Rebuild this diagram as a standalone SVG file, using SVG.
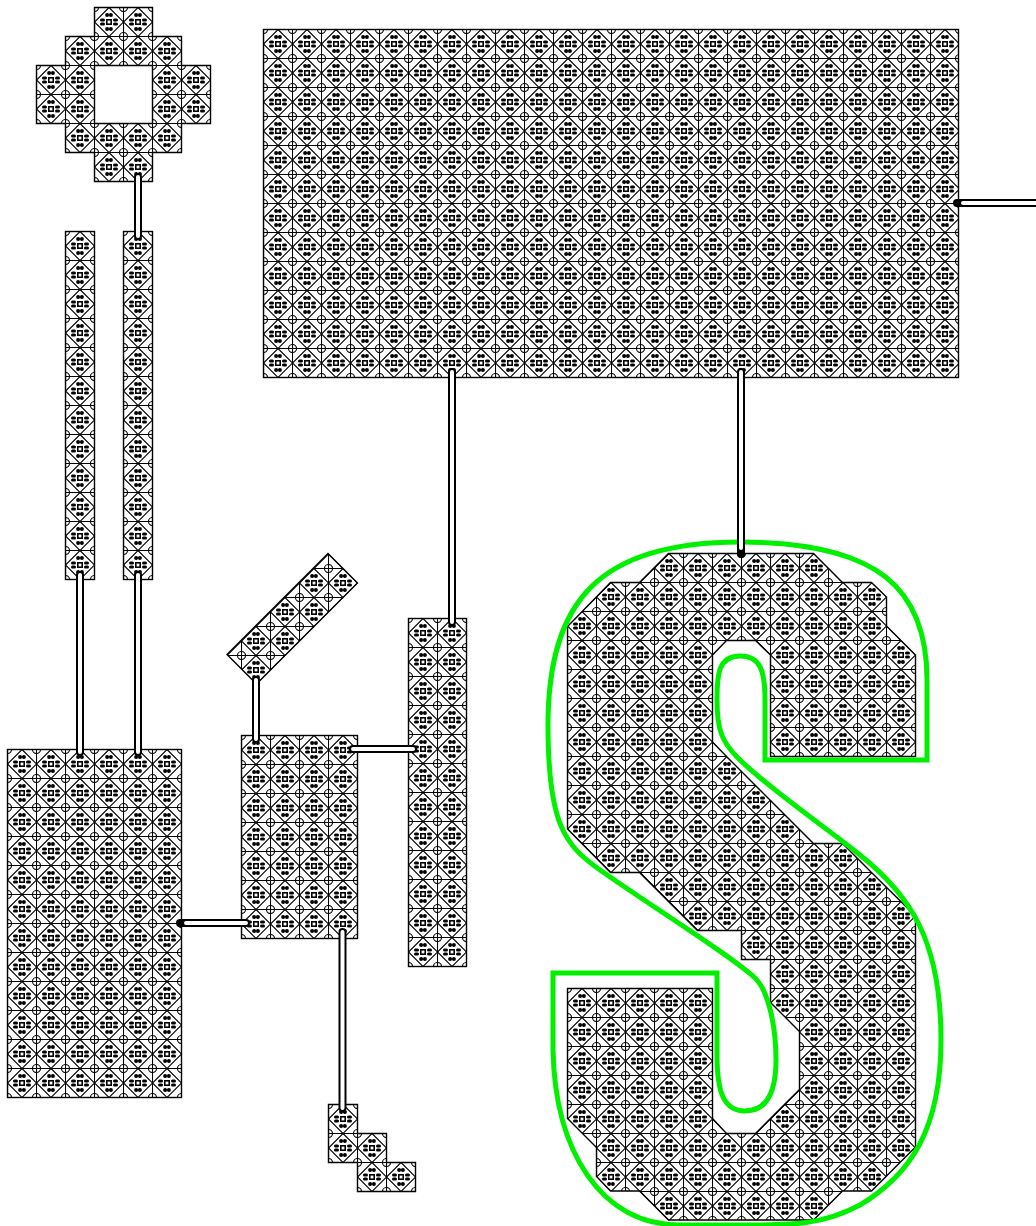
<svg xmlns="http://www.w3.org/2000/svg" xmlns:xlink="http://www.w3.org/1999/xlink" width="1036" height="1226" viewBox="0 0 1036 1226">
<style>
.t{fill:none;stroke:#000;stroke-width:1.1}
.d{fill:#000;stroke:none}
.s{stroke:#000;stroke-width:1.4}
.o{fill:none;stroke:#000;stroke-width:8;stroke-linecap:round}
.i{fill:none;stroke:#fff;stroke-width:4;stroke-linecap:round}
.g{fill:none;stroke:#00f000;stroke-width:5;stroke-linejoin:miter}
</style>
<defs>
<pattern id="tile" patternUnits="userSpaceOnUse" width="29" height="29">
<rect width="29" height="29" fill="#fff"/>
<path class="t" d="M0 .5H29M.5 0V29"/>
<path class="t" d="M15 .5L29.5 15L15 29.5L.5 15Z"/>
<circle class="t" cx=".5" cy=".5" r="4"/><circle class="t" cx="29.5" cy=".5" r="4"/><circle class="t" cx=".5" cy="29.5" r="4"/><circle class="t" cx="29.5" cy="29.5" r="4"/>
<rect x="12.8" y="12.8" width="4.4" height="4.4" fill="#fff" stroke="#000" stroke-width="1.6"/>
<circle class="d" cx="13.1" cy="8" r="2"/><circle class="d" cx="16.9" cy="8" r="2"/>
<circle class="d" cx="13.1" cy="22" r="2"/><circle class="d" cx="16.9" cy="22" r="2"/>
<rect class="d" x="6" y="11.4" width="5" height="3.2" rx="1.5"/><rect class="d" x="6" y="15.4" width="5" height="3.2" rx="1.5"/>
<rect class="d" x="19" y="11.4" width="5" height="3.2" rx="1.5"/><rect class="d" x="19" y="15.4" width="5" height="3.2" rx="1.5"/>
</pattern>
<pattern id="pRing" href="#tile" xlink:href="#tile" x="36" y="7"/>
<pattern id="pBig" href="#tile" xlink:href="#tile" x="263" y="29"/>
<pattern id="pLeft" href="#tile" xlink:href="#tile" x="65" y="231"/>
<pattern id="pLow" href="#tile" xlink:href="#tile" x="7" y="749"/>
<pattern id="pMid" href="#tile" xlink:href="#tile" x="241" y="735"/>
<pattern id="pSide" href="#tile" xlink:href="#tile" x="408" y="618"/>
<pattern id="pStair" href="#tile" xlink:href="#tile" x="328" y="1104"/>
<pattern id="pDiag" href="#tile" xlink:href="#tile" x="328" y="568"/>
<pattern id="pS" href="#tile" xlink:href="#tile" x="567" y="553"/>
</defs>
<g id="ring"><path class="s" fill="url(#pRing)" d="M94.5 7.5H152.5V36.5H181.5V65.5H210.5V123.5H181.5V152.5H152.5V181.5H94.5V152.5H65.5V123.5H36.5V65.5H65.5V36.5H94.5ZM94.5 65.5V123.5H152.5V65.5Z" fill-rule="evenodd"/></g>
<g id="big"><rect class="s" fill="url(#pBig)" x="263.5" y="29.5" width="695" height="348"/></g>
<g id="strip-a"><rect class="s" fill="url(#pLeft)" x="65.5" y="231.5" width="29" height="348"/></g>
<g id="strip-b"><rect class="s" fill="url(#pLeft)" x="123.5" y="231.5" width="29" height="348"/></g>
<g id="lower"><rect class="s" fill="url(#pLow)" x="7.5" y="749.5" width="174" height="348"/></g>
<g id="middle"><rect class="s" fill="url(#pMid)" x="241.5" y="735.5" width="116" height="203"/></g>
<g id="side"><rect class="s" fill="url(#pSide)" x="408.5" y="618.5" width="58" height="348"/></g>
<g id="stair"><path class="s" fill="url(#pStair)" d="M328.5 1104.5H357.5V1133.5H386.5V1162.5H415.5V1191.5H357.5V1162.5H328.5Z"/></g>
<g id="diagonal"><path class="s" fill="url(#pDiag)" d="M328 553.5L357.5 583L256.5 684L227 654.5Z"/></g>
<g id="s-shape">
<path class="s" fill="url(#pS)" d="M668.5 553.5H813.5L842.5 582.5H871.5L886.5 597V626L915.5 655V756.5H770.5V655L755.5 640.5H726.5L712.5 655V742L726.5 756.5L813.5 843.5H842.5L871.5 872.5L915.5 916V1147L871.5 1191H842.5L813.5 1220H668.5L639.5 1191H610.5L596.5 1176.5V1147.5L567.5 1118.5V988.5H712.5V1118.5L726.5 1133.5H755.5L799.5 1089.5V1031.5L770.5 1002.5V959.5H741.5V930.5H697.5L639.5 872.5H610.5L567.5 829V626.5L610.5 582.5H639.5Z"/>
<path class="g" d="M553 973H717V1055C717 1095 725 1111 745 1111C765 1111 776 1095 776 1060C776 1025 768 990 755 978C730 955 660 912 600 870C565 845 548 825 548 725C548 600 600 542 740 542C880 542 927 590 927 680V760H765V700C765 670 760 656 740 656C718 656 717 675 717 700C717 730 722 742 738 758C770 790 830 830 860 855C910 895 941 940 941 1040C941 1130 910 1175 860 1205C820 1226 790 1225 740 1225L680 1225C600 1225 555 1150 553 1050Z"/>
</g>
<g id="connectors">
<path class="o" d="M138 177V236M80 575V752M138 575V752M256 680V739M180 923H246M353 749H413M342.5 932V1108M452 372V622M741 372V554M957 203H1040"/>
<path class="i" d="M138 177V236M80 575V752M138 575V752M256 680V739M186 923H246M353 749H413M342.5 932V1108M452 372V622M741 372V548M963 203H1040"/>
</g>
</svg>
